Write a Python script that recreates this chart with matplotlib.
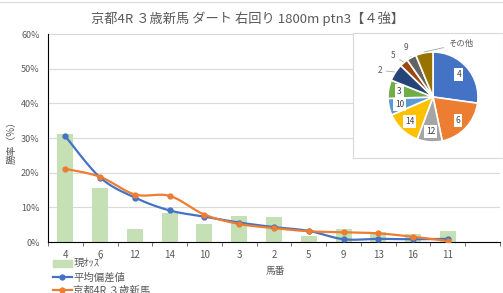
import numpy as np
import matplotlib
matplotlib.use("Agg")
import matplotlib.pyplot as plt
from matplotlib.patches import Patch
from matplotlib.lines import Line2D

plt.rcParams['font.family'] = ['Noto Sans CJK JP', 'DejaVu Sans']

# chart data
horses = ['4', '6', '12', '14', '10', '3', '2', '5', '9', '13', '16', '11']
odds = [31.1, 15.6, 3.7, 8.4, 5.3, 7.4, 7.1, 1.8, 3.7, 2.8, 2.2, 3.3]
avg_dev = [30.5, 18.6, 12.8, 9.1, 7.3, 5.6, 4.3, 3.2, 0.8, 0.9, 0.8, 0.9]
race = [21.1, 18.8, 13.7, 13.3, 7.9, 5.2, 4.0, 3.1, 2.8, 2.5, 1.5, 0.3]

pie_labels = ['4', '6', '12', '14', '10', '3', '2', '5', '9', 'その他']
pie_values = [27.2, 19.5, 9.0, 12.8, 6.0, 6.6, 6.2, 3.0, 3.5, 6.2]
pie_colors = ['#4472C4', '#ED7D31', '#A5A5A5', '#FFC000', '#5B9BD5',
              '#70AD47', '#264478', '#9E480E', '#636363', '#997300']

GRAY = '#595959'
W, H = 503, 293


def smooth(x, y, n=24):
    # catmull-rom curve through the points (like excel's smoothed line)
    pts = np.column_stack([x, y]).astype(float)
    p = np.vstack([pts[0], pts, pts[-1]])
    segs = []
    t = np.linspace(0, 1, n)[:, None]
    for i in range(1, len(p) - 2):
        p0, p1, p2, p3 = p[i - 1], p[i], p[i + 1], p[i + 2]
        seg = 0.5 * ((2 * p1) + (-p0 + p2) * t
                     + (2 * p0 - 5 * p1 + 4 * p2 - p3) * t ** 2
                     + (-p0 + 3 * p1 - 3 * p2 + p3) * t ** 3)
        segs.append(seg)
    return np.vstack(segs)


fig = plt.figure(figsize=(W / 100, H / 100), dpi=100)
ax = fig.add_axes([48 / W, 1 - 242 / H, (500 - 48) / W, (242 - 34) / H])

x = np.arange(len(horses))
ax.bar(x, odds, width=0.46, color='#C5E0B4', zorder=2)

for vals, col in [(avg_dev, '#4472C4'), (race, '#ED7D31')]:
    s = smooth(x, vals)
    ax.plot(s[:, 0], s[:, 1], color=col, lw=1.6, zorder=3)
    ax.plot(x, vals, 'o', color=col, ms=3.5, zorder=4)

ax.set_xlim(-0.5, 12.5)
ax.set_ylim(0, 60)
ax.set_yticks(range(0, 61, 10))
ax.set_yticklabels([f'{v}%' for v in range(0, 61, 10)], fontsize=6.5, color=GRAY)
ax.set_xticks(x)
ax.set_xticklabels(horses, fontsize=7, color=GRAY)
ax.set_xticks(np.arange(-0.5, 13, 1), minor=True)
ax.tick_params(axis='x', which='major', length=0, pad=6)
ax.tick_params(axis='x', which='minor', length=3, color=GRAY, direction='out')
ax.tick_params(axis='y', length=0, pad=6)
ax.grid(axis='y', color='#D9D9D9', lw=0.8, zorder=0)
ax.set_axisbelow(True)
for side in ['top', 'right']:
    ax.spines[side].set_visible(False)
ax.spines['left'].set_color('black')
ax.spines['bottom'].set_color('black')

fig.text(275 / W, 1 - 271 / H, '馬番', ha='center', va='center', fontsize=7, color=GRAY)
fig.text(12 / W, 1 - 140 / H, '勝率（%）', ha='center', va='center', rotation=90,
         fontsize=7, color=GRAY)
fig.text(248 / W, 1 - 19 / H, '京都4R ３歳新馬 ダート 右回り 1800m ptn3【４強】',
         ha='center', va='center', fontsize=9.5, color=GRAY)
fig.add_artist(Line2D([0, 1], [1 - 2 / H, 1 - 2 / H], color='#D9D9D9', lw=0.8))

handles = [Patch(color='#C5E0B4'),
           Line2D([], [], color='#4472C4', lw=1.6, marker='o', ms=3.5),
           Line2D([], [], color='#ED7D31', lw=1.6, marker='o', ms=3.5)]
fig.legend(handles, ['現ｵｯｽﾞ', '平均偏差値', '京都4R ３歳新馬'],
           loc='upper left', bbox_to_anchor=(53 / W, 1 - 259 / H), frameon=False,
           fontsize=7.5, labelcolor=GRAY, handlelength=1.8, handletextpad=0.15,
           labelspacing=0.3, borderaxespad=0, borderpad=0)

# pie inset
pax = fig.add_axes([353 / W, 1 - 158 / H, 150 / W, 125 / H])
wedges, _ = pax.pie(pie_values, colors=pie_colors, startangle=90, counterclock=False,
                    radius=1, wedgeprops=dict(edgecolor='white', linewidth=1.2))
pax.set_aspect('auto')
pax.set_xlim(-80 / 45, 70 / 45)
pax.set_ylim(-61 / 45, 64 / 45)
pax.set_frame_on(True)
pax.set_facecolor('white')
for sp in pax.spines.values():
    sp.set_color('#D9D9D9')
    sp.set_linewidth(0.8)
pax.set_xticks([])
pax.set_yticks([])

cum = np.cumsum([0] + pie_values)
total = cum[-1]
outer_pos = {'2': (-1.13, 0.59), '5': (-0.83, 0.93), '9': (-0.55, 1.09), 'その他': (0.33, 1.18)}
for i, lab in enumerate(pie_labels):
    mid = (cum[i] + cum[i + 1]) / 2 / total * 2 * np.pi
    ex, ey = np.sin(mid), np.cos(mid)
    if lab in outer_pos:
        tx, ty = outer_pos[lab]
        pax.annotate(lab, xy=(ex * 1.02, ey * 1.02), xytext=(tx, ty),
                     ha='right' if tx < 0 else 'left', va='center',
                     fontsize=6, color=GRAY,
                     arrowprops=dict(arrowstyle='-', color='#A6A6A6', lw=0.6,
                                     shrinkA=1, shrinkB=0))
    else:
        r = 0.76
        pax.text(ex * r, ey * r, lab, ha='center', va='center', fontsize=6,
                 color='#404040',
                 bbox=dict(boxstyle='square,pad=0.25', fc='white', ec='none'))

fig.savefig('out.png', dpi=100)
